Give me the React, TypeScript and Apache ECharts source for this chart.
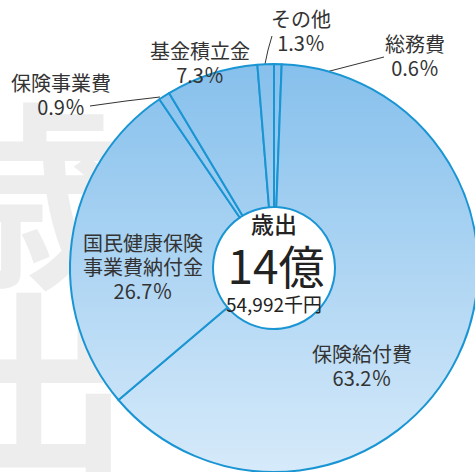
import React, { useEffect, useRef } from "react";
import * as echarts from "echarts";

const categories = ["総務費", "保険給付費", "国民健康保険\n事業費納付金", "保険事業費", "基金積立金", "その他"];
const shares = [0.6, 63.2, 26.7, 0.9, 7.3, 1.3];
const centerTitle = "歳出";
const centerMain = "14億";
const centerSub = "54,992千円";

// label placement (center of text block) and leader lines
const labelPos: Record<number, { x: number; y: number; line?: number[][] }> = {
  0: { x: 415, y: 55, line: [[280, 85], [330, 71], [384, 57]] },
  1: { x: 362, y: 365 },
  2: { x: 143, y: 266 },
  3: { x: 61, y: 94, line: [[160, 97], [126, 101], [90, 106]] },
  4: { x: 200, y: 62 },
  5: { x: 301, y: 30, line: [[265, 64], [268, 50], [272, 36]] },
};

const FONT = '"Noto Sans CJK JP", sans-serif';

export default function App() {
  const ref = useRef<HTMLDivElement>(null);
  useEffect(() => {
    document.body.style.margin = "0";
    const chart = echarts.init(ref.current!, null, { renderer: "svg" });
    const lineIdx = [0, 3, 5];
    chart.setOption({
      animation: false,
      backgroundColor: "#ffffff",
      graphic: [
        {
          type: "text",
          z: -10,
          silent: true,
          style: {
            text: "歳\n出",
            x: 30,
            y: 92,
            align: "center",
            verticalAlign: "top",
            fontSize: 200,
            lineHeight: 188,
            fontFamily: FONT,
            fontWeight: "bold",
            fill: "#ededed",
          },
        },
        {
          type: "text",
          z: 100,
          style: { text: centerTitle, x: 274, y: 223, align: "center", verticalAlign: "middle", fontSize: 23, fontFamily: FONT, fontWeight: 500, fill: "#222" },
        },
        {
          type: "text",
          z: 100,
          style: { text: centerMain, x: 276, y: 264, align: "center", verticalAlign: "middle", fontSize: 46, fontFamily: FONT, fill: "#222" },
        },
        {
          type: "text",
          z: 100,
          style: { text: centerSub, x: 274, y: 303, align: "center", verticalAlign: "middle", fontSize: 19, fontFamily: FONT, fill: "#222" },
        },
      ],
      series: [
        {
          type: "pie",
          center: [274, 268],
          radius: [61, 204],
          startAngle: 90,
          clockwise: true,
          minAngle: 0,
          avoidLabelOverlap: false,
          itemStyle: {
            borderColor: "#1a95d3",
            borderWidth: 2,
            color: {
              type: "linear",
              x: 0,
              y: 64,
              x2: 0,
              y2: 472,
              global: true,
              colorStops: [
                { offset: 0, color: "#86c0ec" },
                { offset: 1, color: "#d6eafa" },
              ],
            },
          },
          emphasis: { disabled: true },
          label: {
            show: true,
            formatter: (p: any) => `${p.name}\n${p.value}％`,
            fontSize: 20,
            lineHeight: 24,
            fontFamily: FONT,
            color: "#333",
            align: "center",
          },
          labelLine: { show: false, lineStyle: { color: "#333", width: 1 } },
          labelLayout: (params: any) => {
            const p = labelPos[params.dataIndex];
            const out: any = { x: p.x, y: p.y, align: "center", verticalAlign: "middle" };
            if (p.line) out.labelLinePoints = p.line;
            return out;
          },
          data: categories.map((name, i) => ({
            name,
            value: shares[i],
            labelLine: { show: lineIdx.includes(i) },
          })),
        },
      ],
    });
    return () => chart.dispose();
  }, []);
  return <div ref={ref} style={{ width: 475, height: 472 }} />;
}
